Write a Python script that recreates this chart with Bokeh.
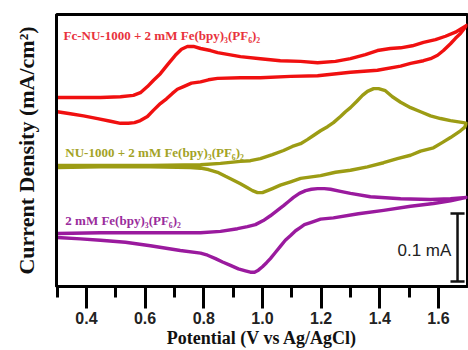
from bokeh.plotting import figure
from bokeh.models import Label, Range1d, SingleIntervalTicker, FixedTicker, PrintfTickFormatter
from bokeh.embed import file_html
from bokeh.resources import INLINE

# ---- data (Potential in V vs Ag/AgCl, current in mA, curves offset vertically) ----
fc_fwd_v = [0.301, 0.380, 0.448, 0.516, 0.560, 0.584, 0.608, 0.628, 0.652, 0.676, 0.703, 0.724, 0.744, 0.765, 0.789,
            0.823, 0.847, 0.925, 0.993, 1.061, 1.130, 1.188, 1.249, 1.300, 1.351, 1.392, 1.436, 1.471, 1.511, 1.549,
            1.590, 1.624, 1.658, 1.696]
fc_fwd_i = [0.278, 0.278, 0.278, 0.279, 0.281, 0.285, 0.294, 0.303, 0.313, 0.326, 0.340, 0.349, 0.353, 0.353, 0.350,
            0.347, 0.344, 0.338, 0.335, 0.332, 0.331, 0.329, 0.331, 0.335, 0.341, 0.347, 0.350, 0.351, 0.354, 0.359,
            0.363, 0.368, 0.374, 0.384]
fc_rev_v = [1.696, 1.675, 1.658, 1.641, 1.617, 1.597, 1.573, 1.549, 1.505, 1.471, 1.392, 1.300, 1.188, 1.096, 0.993,
            0.925, 0.847, 0.816, 0.789, 0.758, 0.731, 0.710, 0.693, 0.673, 0.652, 0.628, 0.608, 0.584, 0.564, 0.543,
            0.516, 0.482, 0.438, 0.390, 0.345, 0.301]
fc_rev_i = [0.384, 0.372, 0.365, 0.357, 0.347, 0.340, 0.335, 0.332, 0.328, 0.324, 0.318, 0.315, 0.310, 0.309, 0.307,
            0.307, 0.306, 0.304, 0.301, 0.299, 0.294, 0.290, 0.284, 0.276, 0.269, 0.259, 0.250, 0.244, 0.241, 0.240,
            0.240, 0.243, 0.247, 0.251, 0.254, 0.257]

nu_fwd_v = [0.301, 0.448, 0.618, 0.789, 0.857, 0.925, 0.959, 0.993, 1.034, 1.072, 1.102, 1.130, 1.153, 1.174, 1.198,
            1.222, 1.242, 1.266, 1.283, 1.300, 1.321, 1.341, 1.358, 1.379, 1.396, 1.419, 1.443, 1.471, 1.505, 1.539,
            1.573, 1.607, 1.641, 1.685, 1.696]
nu_fwd_i = [0.178, 0.178, 0.178, 0.179, 0.181, 0.184, 0.185, 0.188, 0.194, 0.200, 0.206, 0.210, 0.216, 0.222, 0.229,
            0.235, 0.241, 0.250, 0.257, 0.263, 0.272, 0.281, 0.287, 0.291, 0.291, 0.288, 0.279, 0.271, 0.263, 0.257,
            0.251, 0.247, 0.244, 0.241, 0.240]
nu_rev_v = [1.696, 1.689, 1.675, 1.641, 1.614, 1.583, 1.539, 1.505, 1.460, 1.413, 1.358, 1.300, 1.249, 1.198, 1.130,
            1.096, 1.061, 1.034, 1.017, 1.000, 0.983, 0.966, 0.946, 0.925, 0.898, 0.874, 0.847, 0.816, 0.789, 0.755,
            0.618, 0.448, 0.301]
nu_rev_i = [0.240, 0.234, 0.229, 0.219, 0.212, 0.204, 0.199, 0.193, 0.188, 0.182, 0.176, 0.171, 0.168, 0.163, 0.159,
            0.154, 0.149, 0.144, 0.141, 0.138, 0.138, 0.141, 0.146, 0.151, 0.157, 0.162, 0.168, 0.172, 0.174, 0.175,
            0.176, 0.176, 0.175]

fe_fwd_v = [0.301, 0.448, 0.618, 0.789, 0.857, 0.915, 0.949, 0.976, 1.003, 1.027, 1.051, 1.072, 1.089, 1.106, 1.126,
            1.147, 1.167, 1.188, 1.211, 1.232, 1.266, 1.300, 1.368, 1.471, 1.573, 1.641, 1.696]
fe_fwd_i = [0.078, 0.079, 0.079, 0.079, 0.081, 0.085, 0.088, 0.091, 0.097, 0.104, 0.112, 0.119, 0.125, 0.131, 0.137,
            0.141, 0.143, 0.144, 0.144, 0.143, 0.140, 0.137, 0.132, 0.129, 0.128, 0.129, 0.131]
fe_rev_v = [1.696, 1.641, 1.583, 1.505, 1.413, 1.327, 1.242, 1.198, 1.164, 1.143, 1.130, 1.113, 1.096, 1.078, 1.061,
            1.044, 1.027, 1.014, 1.000, 0.986, 0.973, 0.959, 0.942, 0.918, 0.891, 0.864, 0.840, 0.813, 0.789, 0.720,
            0.618, 0.533, 0.448, 0.380, 0.301]
fe_rev_i = [0.131, 0.126, 0.122, 0.118, 0.112, 0.107, 0.101, 0.099, 0.094, 0.091, 0.087, 0.082, 0.075, 0.068, 0.059,
            0.050, 0.041, 0.035, 0.029, 0.024, 0.021, 0.021, 0.023, 0.026, 0.031, 0.036, 0.041, 0.046, 0.049, 0.053,
            0.060, 0.065, 0.068, 0.070, 0.072]

series_names = ["Fc-NU-1000 + 2 mM Fe(bpy)\u2083(PF\u2086)\u2082",
                "NU-1000 + 2 mM Fe(bpy)\u2083(PF\u2086)\u2082",
                "2 mM Fe(bpy)\u2083(PF\u2086)\u2082"]
line_colors = ["#f01010", "#9c9c14", "#9a1a9e"]
text_colors = ["#e8323c", "#a3a326", "#9a2c9c"]
label_pos = [(0.322, 0.369), (0.328, 0.197), (0.328, 0.097)]

scale_bar_v = 1.665
scale_bar_i0 = 0.0075
scale_bar_len = 0.1   # mA
scale_bar_text = "0.1 mA"
scale_text_pos = (1.644, 0.053)

x_title = "Potential (V vs Ag/AgCl)"
y_title = "Current Density (mA/cm\u00b2)"
x_ticks_interval = 0.2

p = figure(width=468, height=350, output_backend="svg", toolbar_location=None,
           x_range=Range1d(0.298, 1.699), y_range=Range1d(0.0, 0.4),
           min_border_left=56, min_border_right=1, min_border_top=14, min_border_bottom=64)
p.background_fill_color = "white"
p.border_fill_color = "white"
p.grid.visible = False
p.outline_line_color = "black"
p.outline_line_width = 3

loops = [(fc_fwd_v + fc_rev_v, fc_fwd_i + fc_rev_i),
         (nu_fwd_v + nu_rev_v, nu_fwd_i + nu_rev_i),
         (fe_fwd_v + fe_rev_v, fe_fwd_i + fe_rev_i)]
for (xs, ys), c in zip(loops, line_colors):
    p.line(xs, ys, line_color=c, line_width=3.4, line_join="round", line_cap="round")

for name, (lx, ly), tc in zip(series_names, label_pos, text_colors):
    p.add_layout(Label(x=lx, y=ly, text=name, text_color=tc, text_font="Liberation Serif",
                       text_font_style="bold", text_font_size="13px", text_baseline="alphabetic"))

# scale bar
cap = 0.024
p.segment(x0=[scale_bar_v, scale_bar_v - cap, scale_bar_v - cap],
          y0=[scale_bar_i0, scale_bar_i0, scale_bar_i0 + scale_bar_len],
          x1=[scale_bar_v, scale_bar_v + cap, scale_bar_v + cap],
          y1=[scale_bar_i0 + scale_bar_len, scale_bar_i0, scale_bar_i0 + scale_bar_len],
          line_color="#111111", line_width=2.5)
p.add_layout(Label(x=scale_text_pos[0], y=scale_text_pos[1], text=scale_bar_text, text_color="#222222",
                   text_font="Liberation Sans", text_font_size="17px", text_align="right",
                   text_baseline="alphabetic"))

xa = p.xaxis[0]
xa.ticker = SingleIntervalTicker(interval=x_ticks_interval, num_minor_ticks=2)
xa.formatter = PrintfTickFormatter(format="%.1f")
xa.axis_line_width = 3
xa.major_tick_line_width = 3
xa.minor_tick_line_width = 3
xa.major_tick_out = 22
xa.major_tick_in = 0
xa.minor_tick_out = 11
xa.minor_tick_in = 0
xa.major_label_text_font = "Liberation Sans"
xa.major_label_text_font_style = "bold"
xa.major_label_text_font_size = "16px"
xa.major_label_text_color = "#222222"
xa.major_label_standoff = 3
xa.axis_label = x_title
xa.axis_label_text_font = "Liberation Serif"
xa.axis_label_text_font_style = "bold"
xa.axis_label_text_font_size = "18px"
xa.axis_label_text_color = "#111111"
xa.axis_label_standoff = 1

ya = p.yaxis[0]
ya.ticker = FixedTicker(ticks=[])
ya.axis_line_width = 3
ya.axis_label = y_title
ya.axis_label_text_font = "Liberation Serif"
ya.axis_label_text_font_style = "bold"
ya.axis_label_text_font_size = "22px"
ya.axis_label_text_color = "#111111"
ya.axis_label_standoff = 18

open("out.html", "w").write(file_html(p, INLINE))
